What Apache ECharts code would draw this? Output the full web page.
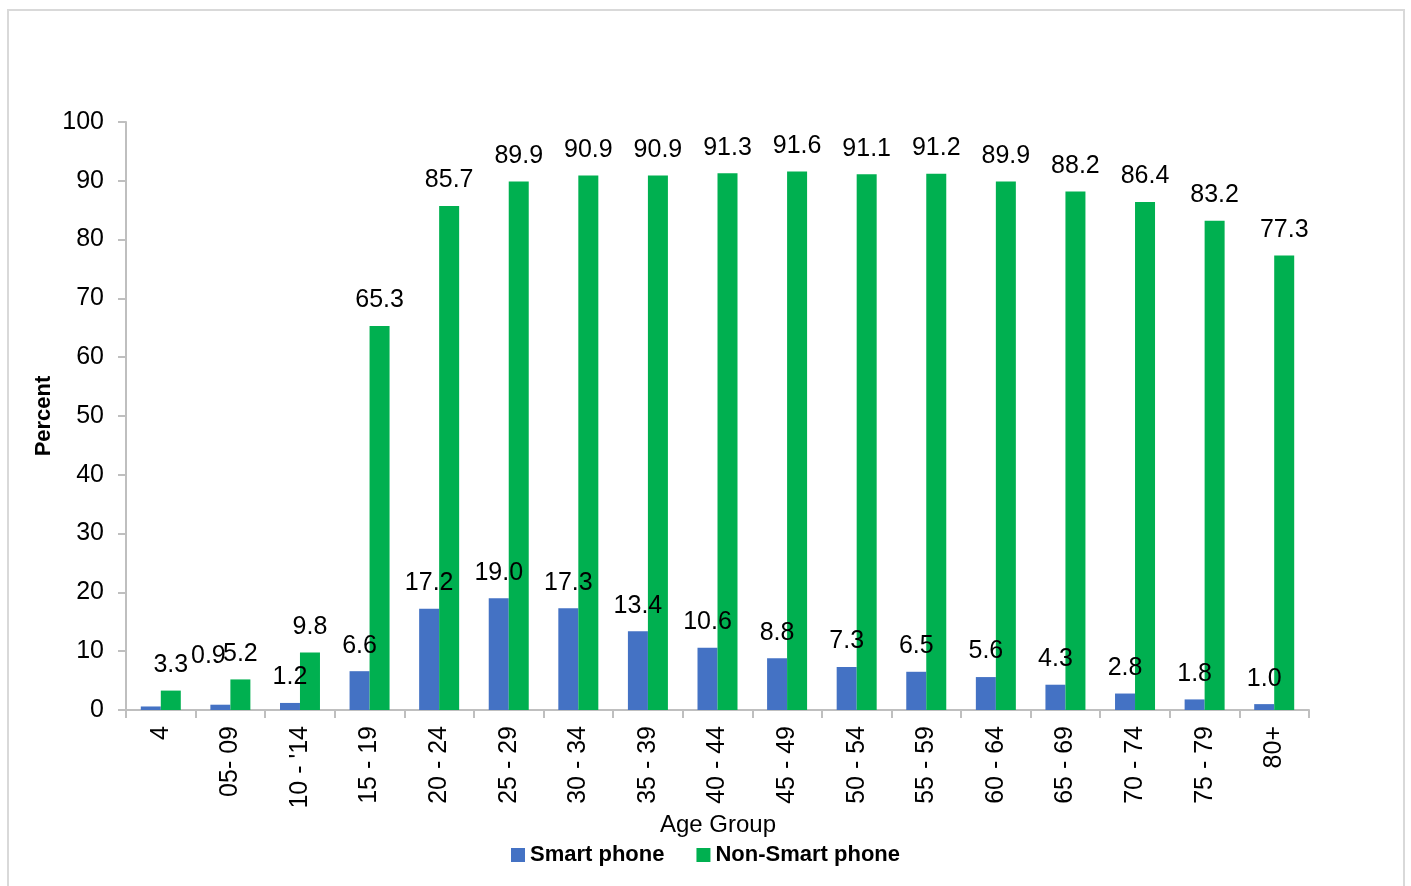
<!DOCTYPE html>
<html>
<head>
<meta charset="utf-8">
<script src="https://cdn.jsdelivr.net/npm/echarts@6/dist/echarts.min.js"></script>
<style>
html,body{margin:0;padding:0;background:#fff;}
#chart{width:1411px;height:886px;}
</style>
</head>
<body>
<div id="chart"></div>
<script>
var categories = ['4', '05- 09', "10 - '14", '15 - 19', '20 - 24', '25 - 29', '30 - 34', '35 - 39', '40 - 44', '45 - 49', '50 - 54', '55 - 59', '60 - 64', '65 - 69', '70 - 74', '75 - 79', '80+'];
var smartPhone = [0.6, 0.9, 1.2, 6.6, 17.2, 19.0, 17.3, 13.4, 10.6, 8.8, 7.3, 6.5, 5.6, 4.3, 2.8, 1.8, 1.0];
var nonSmartPhone = [3.3, 5.2, 9.8, 65.3, 85.7, 89.9, 90.9, 90.9, 91.3, 91.6, 91.1, 91.2, 89.9, 88.2, 86.4, 83.2, 77.3];
var yTicks = [0, 10, 20, 30, 40, 50, 60, 70, 80, 90, 100];
var hiddenLabelIndex = [0];

var FONT = '"Liberation Sans Narrow", "Arial Narrow", "Liberation Sans", Arial, sans-serif';

var chart = echarts.init(document.getElementById('chart'), null, {renderer: 'canvas'});

function labelFmt(p){ return p.value.toFixed(1); }

var smartData = smartPhone.map(function(v, i){
  if (hiddenLabelIndex.indexOf(i) >= 0) return {value: v, label: {show: false}};
  if (i === 1) return {value: v, label: {offset: [-12, -23]}};
  return v;
});

var option = {
  backgroundColor: '#ffffff',
  animation: false,
  grid: {left: 126, right: 102, top: 122, bottom: 176, containLabel: false},
  legend: {
    data: ['Smart phone', 'Non-Smart phone'],
    left: 'center',
    top: 839,
    itemWidth: 14,
    itemHeight: 14,
    itemGap: 32,
    icon: 'rect',
    textStyle: {fontFamily: FONT, fontSize: 22, fontWeight: 'bold', color: '#000'}
  },
  xAxis: {
    type: 'category',
    data: categories,
    axisLine: {lineStyle: {color: '#bfbfbf', width: 2}},
    axisTick: {show: true, alignWithLabel: false, length: 8, lineStyle: {color: '#bfbfbf', width: 2}},
    axisLabel: {rotate: 90, margin: 16, fontFamily: FONT, fontSize: 25, color: '#000', interval: 0}
  },
  yAxis: {
    type: 'value',
    min: yTicks[0],
    max: yTicks[yTicks.length - 1],
    interval: 10,
    splitLine: {show: false},
    axisLine: {show: true, lineStyle: {color: '#bfbfbf', width: 2}},
    axisTick: {show: true, length: 8, lineStyle: {color: '#bfbfbf', width: 2}},
    axisLabel: {margin: 22, fontFamily: FONT, fontSize: 25, color: '#000'}
  },
  series: [
    {
      name: 'Smart phone',
      type: 'bar',
      data: smartData,
      barWidth: 20,
      barGap: '0%',
      itemStyle: {color: '#4472C4'},
      label: {show: true, position: 'top', distance: 13, formatter: labelFmt, fontFamily: FONT, fontSize: 25, color: '#000'}
    },
    {
      name: 'Non-Smart phone',
      type: 'bar',
      data: nonSmartPhone,
      barWidth: 20,
      barGap: '0%',
      itemStyle: {color: '#00B050'},
      label: {show: true, position: 'top', distance: 13, formatter: labelFmt, fontFamily: FONT, fontSize: 25, color: '#000'}
    }
  ],
  graphic: [
    {type: 'rect', shape: {x: 8, y: 10, width: 1396, height: 900}, style: {fill: 'none', stroke: '#d9d9d9', lineWidth: 2}, silent: true, z: -1},
    {type: 'text', x: 718, y: 825, style: {text: 'Age Group', font: '24px ' + FONT, fill: '#000', align: 'center', verticalAlign: 'middle'}},
    {type: 'text', x: 44, y: 416, rotation: Math.PI / 2, style: {text: 'Percent', font: 'bold 22px ' + FONT, fill: '#000', align: 'center', verticalAlign: 'middle'}}
  ]
};
chart.setOption(option);
</script>
</body>
</html>
